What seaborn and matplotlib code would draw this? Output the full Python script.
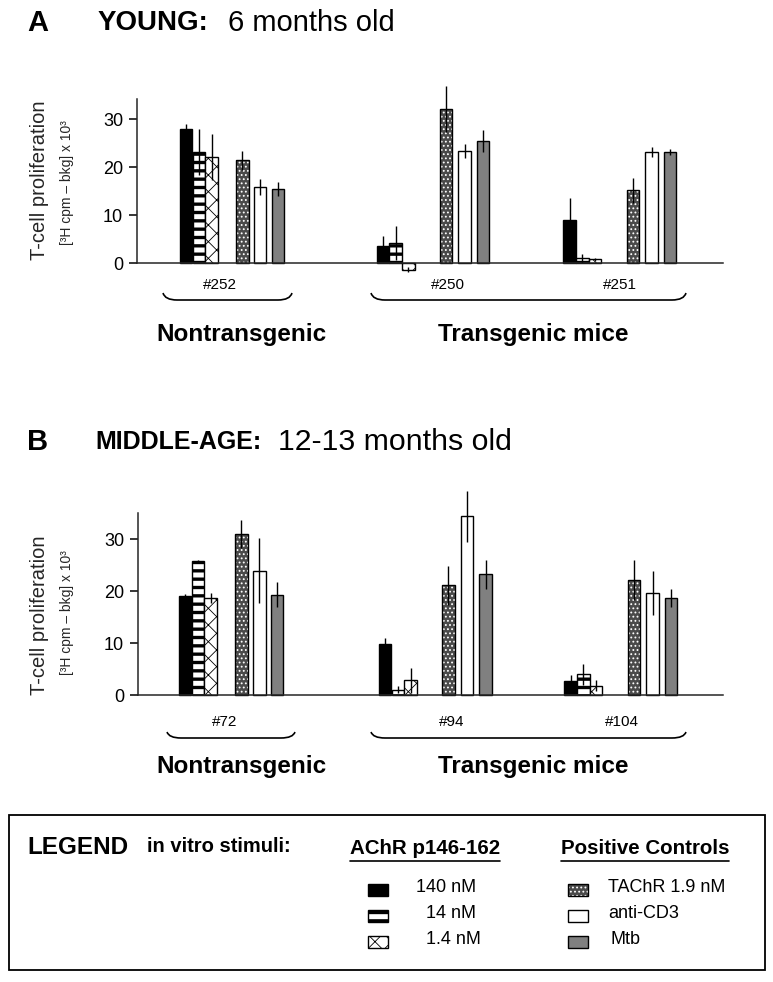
import matplotlib
matplotlib.use("Agg")
import matplotlib.pyplot as plt
import numpy as np
import pandas as pd
import seaborn as sns
from matplotlib.patches import Rectangle, PathPatch
from matplotlib.path import Path

# ---------------- data ----------------
stimuli = ["140 nM", "14 nM", "1.4 nM", "TAChR 1.9 nM", "anti-CD3", "Mtb"]

young_mice = ["#252", "#250", "#251"]
young_252 = [28.0, 23.2, 22.0, 21.4, 15.8, 15.4]
young_252_err = [1.0, 4.8, 4.8, 2.0, 1.6, 1.5]
young_250 = [3.5, 4.2, -1.4, 32.1, 23.3, 25.5]
young_250_err = [2.1, 3.5, 0.5, 4.8, 1.4, 2.3]
young_251 = [9.0, 1.1, 0.8, 15.2, 23.1, 23.1]
young_251_err = [4.5, 0.8, 0.3, 2.6, 1.0, 0.6]

middle_mice = ["#72", "#94", "#104"]
middle_72 = [19.1, 25.7, 18.6, 31.0, 23.9, 19.3]
middle_72_err = [0.3, 0.3, 1.0, 2.7, 6.2, 2.4]
middle_94 = [9.9, 1.0, 2.8, 21.1, 34.4, 23.2]
middle_94_err = [1.0, 0.7, 2.4, 3.8, 4.9, 2.8]
middle_104 = [2.6, 4.0, 1.8, 22.1, 19.6, 18.6]
middle_104_err = [1.2, 2.0, 1.0, 3.8, 4.2, 1.7]

y_ticks = [0, 10, 20, 30]

# ---------------- layout ----------------
W, H = 773, 982
conc_offsets = [0, 1, 2]
pos_offsets_nontg = [4.4, 5.8, 7.2]
pos_offsets_tg = [4.95, 6.4, 7.85]

sns.set_theme(style="ticks")
plt.rcParams["font.family"] = ["Liberation Sans", "DejaVu Sans"]
plt.rcParams["axes.linewidth"] = 1.1
plt.rcParams["hatch.linewidth"] = 1.0

palette = {"140 nM": "black", "14 nM": "white", "1.4 nM": "white",
           "TAChR 1.9 nM": "#4a4a4a", "anti-CD3": "white", "Mtb": "#808080"}
hatches = {"140 nM": None, "14 nM": "--", "1.4 nM": "xx",
           "TAChR 1.9 nM": "....", "anti-CD3": None, "Mtb": None}
hatch_lw = {"14 nM": 2.4, "1.4 nM": 0.6, "TAChR 1.9 nM": 0.8}

fig = plt.figure(figsize=(W / 100, H / 100), dpi=100)


def px_axes(left, top, right, bottom):
    return fig.add_axes([left / W, 1 - bottom / H, (right - left) / W, (bottom - top) / H])


overlay = fig.add_axes([0, 0, 1, 1])
overlay.set_xlim(0, W)
overlay.set_ylim(H, 0)
overlay.axis("off")
overlay.patch.set_alpha(0)


def style_patch(p, stim, target_ax):
    h = hatches[stim]
    if stim == "TAChR 1.9 nM":
        p.set_edgecolor("white")
        p.set_linewidth(0)
        p.set_hatch(h)
        outline = Rectangle((p.get_x(), p.get_y()), p.get_width(), p.get_height(),
                            fill=False, edgecolor="black", linewidth=1.0,
                            clip_on=False, zorder=p.get_zorder() + 0.1)
        target_ax.add_patch(outline)
    else:
        p.set_edgecolor("black")
        p.set_linewidth(1.0)
        if h:
            p.set_hatch(h)
    if stim in hatch_lw and hasattr(p, "set_hatch_linewidth"):
        p.set_hatch_linewidth(hatch_lw[stim])


def build_table(mice, vals_list, err_list, starts):
    rows = []
    for gi, (mouse, vals, errs, start) in enumerate(zip(mice, vals_list, err_list, starts)):
        offs = conc_offsets + (pos_offsets_nontg if gi == 0 else pos_offsets_tg)
        for stim, v, e, off in zip(stimuli, vals, errs, offs):
            rows.append({"mouse": mouse, "stimulus": stim, "value": v, "err": e,
                         "x": round(start + off, 3)})
    return pd.DataFrame(rows)


def draw_panel(ax, df, ytop, xmax):
    sns.barplot(data=df, x="x", y="value", hue="stimulus", hue_order=stimuli,
                palette=palette, native_scale=True, dodge=False, width=0.97,
                errorbar=None, saturation=1, legend=False, ax=ax, zorder=2)
    for p in list(ax.patches):
        xc = p.get_x() + p.get_width() / 2
        idx = int(np.argmin(np.abs(df["x"].values - xc)))
        style_patch(p, df["stimulus"].iloc[idx], ax)
        p.set_clip_on(False)
    ax.errorbar(df["x"], df["value"], yerr=df["err"], fmt="none", ecolor="black",
                elinewidth=1.0, capsize=0, clip_on=False, zorder=4)
    ax.set_xlim(0, xmax)
    ax.set_ylim(-3, ytop)
    ax.set_xticks([])
    ax.set_yticks(y_ticks)
    ax.set_yticklabels([str(t) for t in y_ticks], fontsize=13)
    ax.tick_params(axis="y", length=6, width=1.1, pad=4, color="black", labelcolor="black")
    ax.set_xlabel("")
    ax.set_ylabel("")
    ax.spines["top"].set_visible(False)
    ax.spines["right"].set_visible(False)
    ax.spines["bottom"].set_position(("data", 0))
    ax.spines["left"].set_bounds(0, ytop)
    ax.patch.set_alpha(0)


# Panel A
axA = px_axes(137, 99, 723, 263 + 3 * 4.8)
dfA = build_table(young_mice, [young_252, young_250, young_251],
                  [young_252_err, young_250_err, young_251_err], [3.83, 19.2, 33.8])
draw_panel(axA, dfA, 34.17, 586 / 12.8)

# Panel B
axB = px_axes(138, 513, 723, 695 + 3 * 5.2)
dfB = build_table(middle_mice, [middle_72, middle_94, middle_104],
                  [middle_72_err, middle_94_err, middle_104_err], [3.68, 19.3, 33.8])
draw_panel(axB, dfB, 35.0, 585 / 12.8)


# ---------------- annotations ----------------
def brace(x0, x1, yt, yb):
    verts = [(x0, yt), (x0 + 2, yb), (x0 + 14, yb), (x1 - 14, yb), (x1 - 2, yb), (x1, yt)]
    codes = [Path.MOVETO, Path.CURVE3, Path.CURVE3, Path.LINETO, Path.CURVE3, Path.CURVE3]
    overlay.add_patch(PathPatch(Path(verts, codes), fill=False, edgecolor="black", lw=1.2))


def txt(x, y, s, size, weight="normal", ha="center"):
    return overlay.text(x, y, s, fontsize=size, fontweight=weight, ha=ha, va="center",
                        color="black")


# Panel titles
txt(27, 23, "A", 21, "bold", "left")
txt(98, 23, "YOUNG:", 20, "bold", "left")
txt(228, 23, "6 months old", 21, "normal", "left")
txt(27, 442, "B", 21, "bold", "left")
txt(95, 442, "MIDDLE-AGE:", 18, "bold", "left")
txt(278, 442, "12-13 months old", 21.8, "normal", "left")

# y labels
for yc, ys in [(180, 183), (615, 613)]:
    overlay.text(40, yc, "T-cell proliferation", fontsize=14.5, rotation=90,
                 ha="center", va="center")
    overlay.text(67, ys, "[³H cpm – bkg] x 10³", fontsize=10, rotation=90,
                 ha="center", va="center")

# mouse labels & braces
for x, s in zip([220, 448, 620], young_mice):
    txt(x, 285, s, 11)
for x, s in zip([225, 452, 622], middle_mice):
    txt(x, 722, s, 11)
brace(163, 292, 293, 300)
brace(371, 686, 293, 300)
brace(167, 295, 732, 738)
brace(371, 686, 732, 738)
for y in (334, 766):
    txt(241, y, "Nontransgenic", 17.5, "bold")
    txt(533, y, "Transgenic mice", 17.5, "bold")

# ---------------- legend box ----------------
overlay.add_patch(Rectangle((9, 815), 756, 155, fill=False, edgecolor="black", lw=1.3))
txt(27, 847, "LEGEND", 17.5, "bold", "left")
txt(147, 847, "in vitro stimuli:", 14.5, "bold", "left")
h1 = txt(350, 849, "AChR p146-162", 14.8, "bold", "left")
h2 = txt(561, 849, "Positive Controls", 14.8, "bold", "left")

fig.canvas.draw()
inv = overlay.transData.inverted()
for t in (h1, h2):
    bb = t.get_window_extent()
    (xa, ya), (xb, yb) = inv.transform([(bb.x0, bb.y0), (bb.x1, bb.y1)])
    overlay.plot([xa, xb], [ya + 2, ya + 2], color="black", lw=1.2)

sw_rows = [890, 916, 942]
sw_w, sw_h = 20, 12
conc_label_x = [416, 426, 426]
for stim, y, lx in zip(stimuli[:3], sw_rows, conc_label_x):
    r = Rectangle((368, y - sw_h / 2), sw_w, sw_h, facecolor=palette[stim])
    overlay.add_patch(r)
    style_patch(r, stim, overlay)
    txt(lx, y - 2, stim, 13, "normal", "left")
pos_label_x = [608, 608, 611]
for stim, y, lx in zip(stimuli[3:], sw_rows, pos_label_x):
    r = Rectangle((568, y - sw_h / 2), sw_w, sw_h, facecolor=palette[stim])
    overlay.add_patch(r)
    style_patch(r, stim, overlay)
    txt(lx, y - 2, stim, 13, "normal", "left")

fig.savefig("out.png", dpi=100)
